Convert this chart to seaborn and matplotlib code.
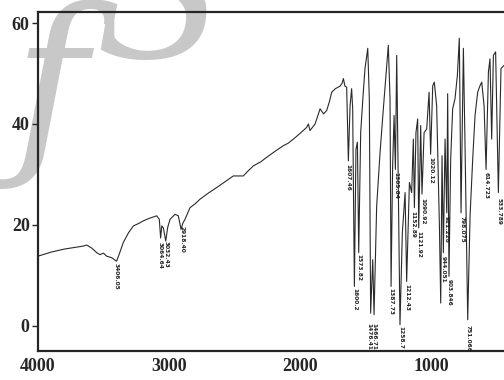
import numpy as np
import pandas as pd
import matplotlib
matplotlib.use("Agg")
import matplotlib.pyplot as plt
import seaborn as sns

sns.set_style("ticks")
plt.rcParams['font.family'] = ['Liberation Serif', 'DejaVu Serif']

# wavenumber (cm-1) and transmittance (%)
wavenumber = [4000, 3900, 3800, 3700, 3654, 3628, 3590, 3552, 3527, 3500, 3476, 3438, 3400,
              3380, 3349, 3310, 3272, 3230, 3196, 3150, 3094, 3074, 3064, 3055, 3043, 3025,
              3010, 2992, 2954, 2929, 2908, 2895, 2878, 2840, 2800, 2763, 2700, 2636, 2570,
              2509, 2433, 2400, 2356, 2300, 2254, 2190, 2127, 2090, 2051, 2010, 1975, 1950,
              1936, 1924, 1885, 1860, 1847, 1820, 1796, 1775, 1758, 1730, 1695, 1680, 1669,
              1657, 1644, 1631, 1618, 1606, 1598, 1585, 1573, 1562, 1552, 1537, 1517, 1504,
              1483, 1471, 1461, 1445, 1435, 1415, 1389, 1364, 1338, 1326, 1313, 1305, 1293,
              1282, 1272, 1262, 1249, 1237, 1219, 1198, 1186, 1165, 1148, 1135, 1127, 1115,
              1102, 1094, 1079, 1069, 1053, 1033, 1015, 1003, 987, 975, 957, 936, 926, 916,
              906, 893, 880, 873, 863, 850, 835, 817, 799, 784, 771, 753, 740, 720, 702, 682,
              664, 644, 626, 613, 595, 580, 562, 550, 537, 524, 507, 486, 466, 443]
transmittance = [13.8, 14.6, 15.2, 15.6, 15.8, 16.0, 15.4, 14.5, 14.1, 14.4, 13.8, 13.5, 12.8,
                 14.2, 16.5, 18.4, 19.8, 20.3, 20.8, 21.3, 21.8, 21.1, 17.4, 19.8, 19.4, 16.8,
                 19.5, 21.1, 22.1, 21.8, 19.1, 20.3, 21.1, 23.4, 24.2, 25.1, 26.3, 27.4, 28.6,
                 29.7, 29.7, 30.6, 31.7, 32.5, 33.4, 34.6, 35.7, 36.2, 37.0, 37.9, 38.7, 39.3,
                 40.0, 38.7, 40.0, 42.0, 43.0, 42.0, 42.7, 44.5, 46.3, 47.0, 47.5, 48.0, 49.0,
                 47.5, 47.3, 32.7, 43.6, 47.0, 43.0, 7.8, 35.0, 36.4, 14.5, 38.3, 46.3, 51.0,
                 55.0, 45.0, 2.5, 13.1, 2.2, 23.7, 34.4, 43.0, 51.6, 55.6, 45.0, 7.8, 31.7,
                 41.7, 31.0, 53.6, 25.0, 0.2, 18.4, 26.4, 8.8, 28.4, 26.4, 37.0, 23.4, 38.3,
                 41.0, 19.4, 39.7, 26.1, 38.3, 39.0, 46.3, 34.0, 47.6, 48.3, 43.6, 19.8, 4.5,
                 33.7, 14.5, 37.0, 22.4, 46.0, 9.8, 33.0, 43.0, 45.0, 49.6, 57.0, 22.4, 55.0,
                 35.0, 1.2, 21.8, 33.0, 41.7, 46.3, 47.6, 48.3, 43.6, 31.0, 50.3, 52.9, 37.0,
                 53.6, 54.3, 26.4, 51.0, 51.6]

# peak annotations: label text, wavenumber position, top of label (%T)
peak_labels = ["3406.05", "3064.64", "3032.43", "2918.40", "1607.46", "1600.2", "1573.82",
               "1476.41", "1466.71", "1387.73", "1305.84", "1258.7", "1212.43", "1152.89",
               "1121.92", "1090.92", "1020.12", "944.051", "921.228", "903.846", "798.075",
               "751.066", "614.723", "533.789"]
peak_pos = [3400, 3069, 3025, 2903, 1631, 1580, 1550, 1471, 1435, 1305, 1272, 1229, 1181,
            1135, 1089, 1064, 1000, 906, 886, 863, 766, 715, 582, 480]
peak_top = [12.8, 16.9, 17.1, 20.1, 32.4, 7.8, 14.5, 0.9, 0.9, 7.8, 30.7, 0.2, 8.5, 23.1,
            19.1, 25.7, 33.7, 14.1, 22.1, 9.5, 22.1, 0.5, 30.7, 25.7]

x_ticks = [4000, 3000, 2000, 1000]
y_ticks = [0, 20, 40, 60]

df = pd.DataFrame({"wn": wavenumber, "T": transmittance})

fig = plt.figure(figsize=(5.04, 3.8), dpi=100)
ax = fig.add_axes([38 / 504, 29 / 380, 1 - 38 / 504, 339 / 380])

# watermark behind the chart
fig.text(0.10, 1 - 152 / 380, "ƒ", fontsize=145, color="#c8c8c8", style="italic",
         family=["DejaVu Serif"], va="baseline", ha="center", zorder=-5)
fig.text(0.31, 1 - 58 / 380, "S", fontsize=170, color="#c8c8c8", style="italic",
         family=["Liberation Serif"], va="baseline", ha="center", zorder=-5)

sns.lineplot(data=df, x="wn", y="T", sort=False, ax=ax, color="#2a2a2a", lw=0.8)

for txt, xp, yt in zip(peak_labels, peak_pos, peak_top):
    ax.text(xp, yt - 0.3, txt, rotation=270, ha="center", va="top", fontsize=4.2,
            fontweight="bold", family=["DejaVu Sans"], color="#222222")

ax.set_xlim(4000, 443)
ax.set_ylim(-5, 62.2)
ax.set_xticks(x_ticks)
ax.set_yticks(y_ticks)
ax.set_xlabel("")
ax.set_ylabel("")
ax.tick_params(axis="x", length=0, pad=5, labelsize=13)
ax.tick_params(axis="y", length=4, width=1, pad=2, labelsize=13)
for lab in ax.get_xticklabels() + ax.get_yticklabels():
    lab.set_fontweight("bold")
for s in ["left", "bottom", "top"]:
    ax.spines[s].set_linewidth(1.6)
ax.spines["right"].set_visible(False)
ax.patch.set_alpha(0)

fig.savefig("out.png", dpi=100)
